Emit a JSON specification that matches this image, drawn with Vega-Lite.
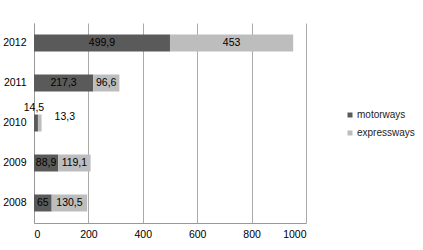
{
  "$schema": "https://vega.github.io/schema/vega-lite/v6.json",
  "width": 272,
  "height": 200,
  "autosize": "none",
  "padding": {"left": 34, "top": 23, "right": 117, "bottom": 27},
  "config": {"view": {"stroke": null}, "font": "Liberation Sans"},
  "data": {"values": [
    {"year": "2012", "type": "motorways", "value": 499.9, "label": "499,9"},
    {"year": "2012", "type": "expressways", "value": 453, "label": "453"},
    {"year": "2011", "type": "motorways", "value": 217.3, "label": "217,3"},
    {"year": "2011", "type": "expressways", "value": 96.6, "label": "96,6"},
    {"year": "2010", "type": "motorways", "value": 14.5, "label": "14,5"},
    {"year": "2010", "type": "expressways", "value": 13.3, "label": "13,3"},
    {"year": "2009", "type": "motorways", "value": 88.9, "label": "88,9"},
    {"year": "2009", "type": "expressways", "value": 119.1, "label": "119,1"},
    {"year": "2008", "type": "motorways", "value": 65, "label": "65"},
    {"year": "2008", "type": "expressways", "value": 130.5, "label": "130,5"}
  ]},
  "encoding": {
    "y": {"field": "year", "type": "ordinal", "sort": "descending", "title": null,
      "axis": {"labelFontSize": 10.5, "labelColor": "#000", "labelPadding": 8, "ticks": false, "domainColor": "#999"}}
  },
  "layer": [
    {
      "mark": {"type": "bar", "size": 17},
      "encoding": {
        "x": {"field": "value", "type": "quantitative", "stack": "zero", "title": null,
          "scale": {"domain": [0, 1000], "nice": false},
          "axis": {"values": [0, 200, 400, 600, 800, 1000], "format": "d", "labelFontSize": 10.5, "labelColor": "#000", "ticks": false, "labelPadding": 6, "gridColor": "#aaa", "domainColor": "#999"}},
        "color": {"field": "type", "type": "nominal",
          "scale": {"domain": ["motorways", "expressways"], "range": ["#5a5a5a", "#bdbdbd"]},
          "legend": {"title": null, "orient": "none", "legendX": 311, "legendY": 87, "padding": 0, "symbolType": "square", "symbolSize": 25, "labelFontSize": 10, "labelColor": "#222", "rowPadding": 8, "labelOffset": 2}},
        "order": {"field": "type", "sort": "descending"}
      }
    },
    {
      "transform": [
        {"stack": "value", "groupby": ["year"], "sort": [{"field": "type", "order": "descending"}], "as": ["v0", "v1"]},
        {"calculate": "(datum.v0 + datum.v1) / 2", "as": "mid"},
        {"filter": "datum.year != '2010'"}
      ],
      "mark": {"type": "text", "fontSize": 10.5, "color": "#000"},
      "encoding": {
        "x": {"field": "mid", "type": "quantitative"},
        "text": {"field": "label"}
      }
    },
    {
      "transform": [
        {"filter": "datum.year == '2010' && datum.type == 'motorways'"}
      ],
      "mark": {"type": "text", "fontSize": 10.5, "color": "#000", "dx": -4, "dy": -15},
      "encoding": {
        "x": {"field": "value", "type": "quantitative"},
        "text": {"field": "label"}
      }
    },
    {
      "transform": [
        {"filter": "datum.year == '2010' && datum.type == 'expressways'"}
      ],
      "mark": {"type": "text", "fontSize": 10.5, "color": "#000", "align": "left", "dx": 17, "dy": -6},
      "encoding": {
        "x": {"field": "value", "type": "quantitative"},
        "text": {"field": "label"}
      }
    }
  ]
}
